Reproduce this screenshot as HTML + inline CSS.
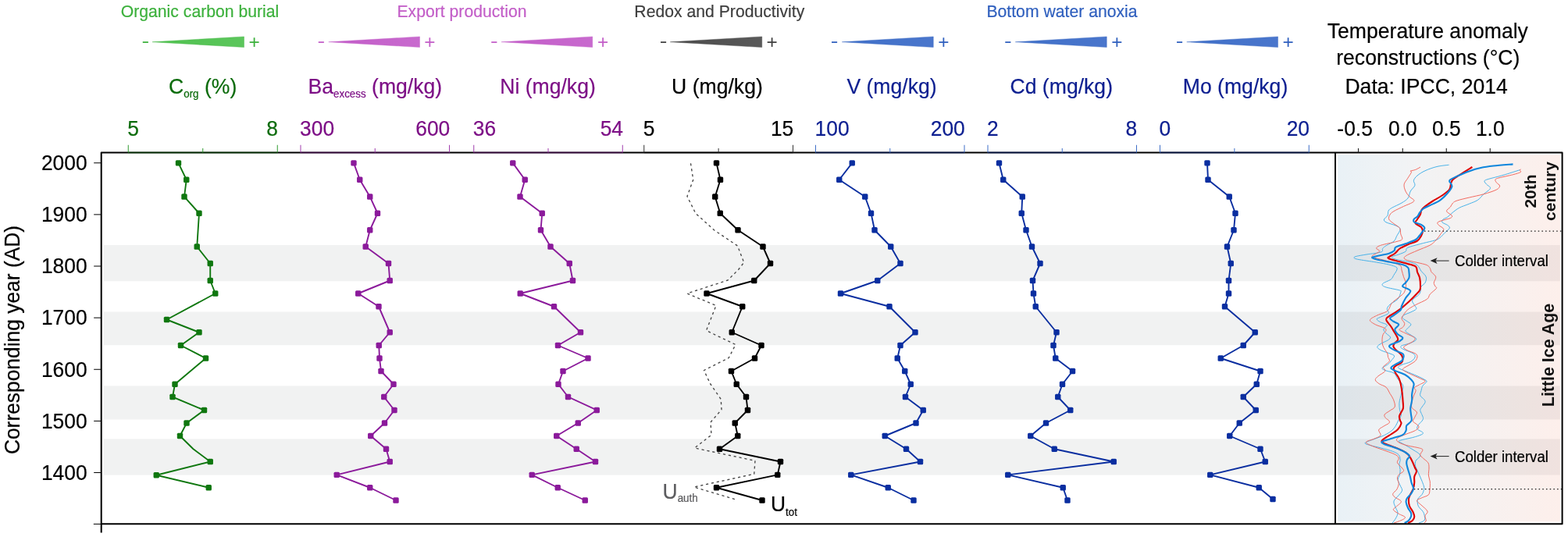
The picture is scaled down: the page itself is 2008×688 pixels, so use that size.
<!DOCTYPE html>
<html lang="en">
<head>
<meta charset="utf-8">
<title>Geochemical proxies and temperature anomaly reconstructions</title>
<style>html,body{margin:0;padding:0;background:#fff}svg{display:block}text{stroke-width:.2px;stroke-linejoin:round}</style>
</head>
<body>
<svg width="2008" height="688" viewBox="0 0 2008 688" font-family='"Liberation Sans", sans-serif'>
<defs>
<linearGradient id="tg" x1="0" y1="0" x2="1" y2="0"><stop offset="0" stop-color="#e9f1f6"/><stop offset="0.3" stop-color="#f1f3f5"/><stop offset="0.5" stop-color="#f4f2f2"/><stop offset="1" stop-color="#fdefeb"/></linearGradient>
<linearGradient id="wg" x1="0" y1="0" x2="1" y2="0"><stop offset="0" stop-color="#4fc24f"/><stop offset="1" stop-color="#5cc65c"/></linearGradient>
<linearGradient id="wp" x1="0" y1="0" x2="1" y2="0"><stop offset="0" stop-color="#c25cc8"/><stop offset="1" stop-color="#c86ace"/></linearGradient>
<linearGradient id="wk" x1="0" y1="0" x2="1" y2="0"><stop offset="0" stop-color="#4a4a4a"/><stop offset="1" stop-color="#5a5a5a"/></linearGradient>
<linearGradient id="wb" x1="0" y1="0" x2="1" y2="0"><stop offset="0" stop-color="#3f6fc8"/><stop offset="1" stop-color="#4a76cc"/></linearGradient>
</defs>
<rect width="2008" height="688" fill="#ffffff"/>
<rect x="1713.1" y="198.2" width="284.8" height="470.3" fill="url(#tg)"/>
<rect x="132.9" y="314.0" width="1574.6" height="46.25" fill="#f1f2f2"/>
<rect x="1713.1" y="314.0" width="284.8" height="46.25" fill="#000" fill-opacity="0.052"/>
<rect x="132.9" y="399.5" width="1574.6" height="42.7" fill="#f1f2f2"/>
<rect x="1713.1" y="399.5" width="284.8" height="42.7" fill="#000" fill-opacity="0.052"/>
<rect x="132.9" y="494.4" width="1574.6" height="43.1" fill="#f1f2f2"/>
<rect x="1713.1" y="494.4" width="284.8" height="43.1" fill="#000" fill-opacity="0.052"/>
<rect x="132.9" y="562.4" width="1574.6" height="46.2" fill="#f1f2f2"/>
<rect x="1713.1" y="562.4" width="284.8" height="46.2" fill="#000" fill-opacity="0.052"/>
<text transform="translate(256 21.6) scale(1 1.025)" font-size="21.2" fill="#3db13d" stroke="#3db13d" text-anchor="middle">Organic carbon burial</text>
<text transform="translate(591.5 21.6) scale(1 1.025)" font-size="21.2" fill="#c35ec8" stroke="#c35ec8" text-anchor="middle">Export production</text>
<text transform="translate(921.3 21.6) scale(1 1.025)" font-size="21.2" fill="#3f3f3f" stroke="#3f3f3f" text-anchor="middle">Redox and Productivity</text>
<text transform="translate(1360 21.6) scale(1 1.025)" font-size="21.2" fill="#2f5fbe" stroke="#2f5fbe" text-anchor="middle">Bottom water anoxia</text>
<polygon points="195,53.75 312.5,46.9 312.5,60.6" fill="url(#wg)" stroke="#3db13d" stroke-width="0.4" stroke-linejoin="round"/>
<text transform="translate(186.25 59.8) scale(1 0.78)" font-size="29" fill="#3db13d" text-anchor="middle">-</text>
<text x="325.5" y="62.1" font-size="24.4" fill="#3db13d" text-anchor="middle">+</text>
<polygon points="420.75,53.75 537.5,46.9 537.5,60.6" fill="url(#wp)" stroke="#c35ec8" stroke-width="0.4" stroke-linejoin="round"/>
<text transform="translate(411.25 59.8) scale(1 0.78)" font-size="29" fill="#c35ec8" text-anchor="middle">-</text>
<text x="550.25" y="62.1" font-size="24.4" fill="#c35ec8" text-anchor="middle">+</text>
<polygon points="642,53.75 758.75,46.9 758.75,60.6" fill="url(#wp)" stroke="#c35ec8" stroke-width="0.4" stroke-linejoin="round"/>
<text transform="translate(632.75 59.8) scale(1 0.78)" font-size="29" fill="#c35ec8" text-anchor="middle">-</text>
<text x="772" y="62.1" font-size="24.4" fill="#c35ec8" text-anchor="middle">+</text>
<polygon points="858.25,53.75 975.75,46.9 975.75,60.6" fill="url(#wk)" stroke="#3f3f3f" stroke-width="0.4" stroke-linejoin="round"/>
<text transform="translate(849.5 59.8) scale(1 0.78)" font-size="29" fill="#3f3f3f" text-anchor="middle">-</text>
<text x="988.5" y="62.1" font-size="24.4" fill="#3f3f3f" text-anchor="middle">+</text>
<polygon points="1078.25,53.75 1195.25,46.9 1195.25,60.6" fill="url(#wb)" stroke="#2f5fbe" stroke-width="0.4" stroke-linejoin="round"/>
<text transform="translate(1068.5 59.8) scale(1 0.78)" font-size="29" fill="#2f5fbe" text-anchor="middle">-</text>
<text x="1208.25" y="62.1" font-size="24.4" fill="#2f5fbe" text-anchor="middle">+</text>
<polygon points="1300.25,53.75 1417.25,46.9 1417.25,60.6" fill="url(#wb)" stroke="#2f5fbe" stroke-width="0.4" stroke-linejoin="round"/>
<text transform="translate(1290.75 59.8) scale(1 0.78)" font-size="29" fill="#2f5fbe" text-anchor="middle">-</text>
<text x="1430.25" y="62.1" font-size="24.4" fill="#2f5fbe" text-anchor="middle">+</text>
<polygon points="1519.75,53.75 1636.5,46.9 1636.5,60.6" fill="url(#wb)" stroke="#2f5fbe" stroke-width="0.4" stroke-linejoin="round"/>
<text transform="translate(1510.5 59.8) scale(1 0.78)" font-size="29" fill="#2f5fbe" text-anchor="middle">-</text>
<text x="1649.6" y="62.1" font-size="24.4" fill="#2f5fbe" text-anchor="middle">+</text>
<text transform="translate(216 119.7) scale(1 1.025)" font-size="26.6" fill="#0b6b0b" stroke="#0b6b0b">C<tspan font-size="13.4" dy="5.2">org</tspan><tspan dy="-5.2"> (%)</tspan></text>
<text transform="translate(394.5 119.7) scale(1 1.025)" font-size="26.6" fill="#7d0f86" stroke="#7d0f86">Ba<tspan font-size="13.4" dy="5.2">excess</tspan><tspan dy="-5.2"> (mg/kg)</tspan></text>
<text transform="translate(640.2 119.6) scale(1 1.025)" font-size="26.6" fill="#7d0f86" stroke="#7d0f86" text-anchor="start">Ni (mg/kg)</text>
<text transform="translate(860.1 119.6) scale(1 1.025)" font-size="26.6" fill="#000" stroke="#000" text-anchor="start">U (mg/kg)</text>
<text transform="translate(1084.4 119.6) scale(1 1.025)" font-size="26.6" fill="#0c1e90" stroke="#0c1e90" text-anchor="start">V (mg/kg)</text>
<text transform="translate(1293.5 119.6) scale(1 1.025)" font-size="26.6" fill="#0c1e90" stroke="#0c1e90" text-anchor="start">Cd (mg/kg)</text>
<text transform="translate(1514.8 119.6) scale(1 1.025)" font-size="26.6" fill="#0c1e90" stroke="#0c1e90" text-anchor="start">Mo (mg/kg)</text>
<text transform="translate(1828.3 49.4) scale(1 1.025)" font-size="26.6" fill="#000" stroke="#000" text-anchor="middle">Temperature anomaly</text>
<text transform="translate(1828.8 83.3) scale(1 1.025)" font-size="26.6" fill="#000" stroke="#000" text-anchor="middle">reconstructions (°C)</text>
<text transform="translate(1826.6 120.1) scale(1 1.025)" font-size="26.6" fill="#000" stroke="#000" text-anchor="middle">Data: IPCC, 2014</text>
<text transform="translate(163.35 173.8) scale(1 1.055)" font-size="26.4" fill="#0b6b0b" stroke="#0b6b0b" text-anchor="start">5</text>
<text transform="translate(356.05 173.8) scale(1 1.055)" font-size="26.4" fill="#0b6b0b" stroke="#0b6b0b" text-anchor="end">8</text>
<text transform="translate(384.1 173.8) scale(1 1.055)" font-size="26.4" fill="#7d0f86" stroke="#7d0f86" text-anchor="start">300</text>
<text transform="translate(576.3 173.8) scale(1 1.055)" font-size="26.4" fill="#7d0f86" stroke="#7d0f86" text-anchor="end">600</text>
<text transform="translate(605.85 173.8) scale(1 1.055)" font-size="26.4" fill="#7d0f86" stroke="#7d0f86" text-anchor="start">36</text>
<text transform="translate(798.05 173.8) scale(1 1.055)" font-size="26.4" fill="#7d0f86" stroke="#7d0f86" text-anchor="end">54</text>
<text transform="translate(823.85 173.8) scale(1 1.055)" font-size="26.4" fill="#000" stroke="#000" text-anchor="start">5</text>
<text transform="translate(1016.3 173.8) scale(1 1.055)" font-size="26.4" fill="#000" stroke="#000" text-anchor="end">15</text>
<text transform="translate(1043.6 173.8) scale(1 1.055)" font-size="26.4" fill="#0c1e90" stroke="#0c1e90" text-anchor="start">100</text>
<text transform="translate(1235.8 173.8) scale(1 1.055)" font-size="26.4" fill="#0c1e90" stroke="#0c1e90" text-anchor="end">200</text>
<text transform="translate(1264.1 173.8) scale(1 1.055)" font-size="26.4" fill="#0c1e90" stroke="#0c1e90" text-anchor="start">2</text>
<text transform="translate(1456.3 173.8) scale(1 1.055)" font-size="26.4" fill="#0c1e90" stroke="#0c1e90" text-anchor="end">8</text>
<text transform="translate(1484.6 173.8) scale(1 1.055)" font-size="26.4" fill="#0c1e90" stroke="#0c1e90" text-anchor="start">0</text>
<text transform="translate(1677.05 173.8) scale(1 1.055)" font-size="26.4" fill="#0c1e90" stroke="#0c1e90" text-anchor="end">20</text>
<text transform="translate(1796.25 173.8) scale(1 1.055)" font-size="26.4" fill="#000" stroke="#000" text-anchor="middle">0.0</text>
<text transform="translate(1852.25 173.8) scale(1 1.055)" font-size="26.4" fill="#000" stroke="#000" text-anchor="middle">0.5</text>
<text transform="translate(1908.25 173.8) scale(1 1.055)" font-size="26.4" fill="#000" stroke="#000" text-anchor="middle">1.0</text>
<text transform="translate(1757.85 173.8) scale(1 1.055)" font-size="26.4" fill="#000" stroke="#000" text-anchor="end">-0.5</text>
<line x1="120.2" y1="208.75" x2="129.7" y2="208.75" stroke="#000" stroke-width="1"/>
<text transform="translate(111.6 218.05) scale(1 1.055)" font-size="26.4" fill="#000" stroke="#000" text-anchor="end">2000</text>
<line x1="120.2" y1="274.88" x2="129.7" y2="274.88" stroke="#000" stroke-width="1"/>
<text transform="translate(111.6 284.18) scale(1 1.055)" font-size="26.4" fill="#000" stroke="#000" text-anchor="end">1900</text>
<line x1="120.2" y1="341.01" x2="129.7" y2="341.01" stroke="#000" stroke-width="1"/>
<text transform="translate(111.6 350.31) scale(1 1.055)" font-size="26.4" fill="#000" stroke="#000" text-anchor="end">1800</text>
<line x1="120.2" y1="407.14" x2="129.7" y2="407.14" stroke="#000" stroke-width="1"/>
<text transform="translate(111.6 416.44) scale(1 1.055)" font-size="26.4" fill="#000" stroke="#000" text-anchor="end">1700</text>
<line x1="120.2" y1="473.27" x2="129.7" y2="473.27" stroke="#000" stroke-width="1"/>
<text transform="translate(111.6 482.57) scale(1 1.055)" font-size="26.4" fill="#000" stroke="#000" text-anchor="end">1600</text>
<line x1="120.2" y1="539.4" x2="129.7" y2="539.4" stroke="#000" stroke-width="1"/>
<text transform="translate(111.6 548.7) scale(1 1.055)" font-size="26.4" fill="#000" stroke="#000" text-anchor="end">1500</text>
<line x1="120.2" y1="605.53" x2="129.7" y2="605.53" stroke="#000" stroke-width="1"/>
<text transform="translate(111.6 614.83) scale(1 1.055)" font-size="26.4" fill="#000" stroke="#000" text-anchor="end">1400</text>
<line x1="119.8" y1="671.4" x2="129.7" y2="671.4" stroke="#000" stroke-width="1"/>
<text transform="translate(25.2,435.5) rotate(-90) scale(1 1.05)" font-size="26.4" fill="#000" stroke="#000" text-anchor="middle">Corresponding year (AD)</text>
<g fill="none" stroke-linejoin="round" stroke-linecap="butt">
<path d="M1855.6 211.25C1853 211.62 1845.1 212.25 1840 213.5C1834.9 214.75 1829.17 216.83 1825 218.75C1820.83 220.67 1817.43 222.92 1815 225C1812.57 227.08 1810.92 229.17 1810.4 231.25C1809.88 233.33 1812.59 235.21 1811.9 237.5C1811.21 239.79 1807.72 242.29 1806.25 245C1804.78 247.71 1804.97 251.25 1803.1 253.75C1801.22 256.25 1798.43 257.92 1795 260C1791.57 262.08 1785.32 264.58 1782.5 266.25C1779.68 267.92 1779.03 268.33 1778.1 270C1777.17 271.67 1777.83 274.42 1776.9 276.25C1775.97 278.08 1772.82 279.58 1772.5 281C1772.18 282.42 1772.5 283.4 1775 284.75C1777.5 286.1 1784.48 287.64 1787.5 289.1C1790.52 290.56 1792.89 291.31 1793.1 293.5C1793.31 295.69 1790.1 299.65 1788.75 302.25C1787.4 304.85 1787.29 307.02 1785 309.1C1782.71 311.18 1777.4 313.18 1775 314.75C1772.6 316.32 1771.64 317.14 1770.6 318.5C1769.56 319.86 1772.18 321.65 1768.75 322.9C1765.32 324.15 1755.21 325.11 1750 326C1744.79 326.89 1740.17 327.57 1737.5 328.25C1734.83 328.93 1733.79 329.43 1734 330.1C1734.21 330.77 1734 331.27 1738.75 332.25C1743.5 333.23 1755.83 334.86 1762.5 336C1769.17 337.14 1774.48 338.06 1778.75 339.1C1783.02 340.14 1786.43 341.1 1788.1 342.25C1789.77 343.4 1789.27 344.33 1788.75 346C1788.23 347.67 1786.25 350.27 1785 352.25C1783.75 354.23 1783.65 356.02 1781.25 357.9C1778.85 359.77 1771.85 361.88 1770.6 363.5C1769.35 365.12 1770.1 366.18 1773.75 367.6C1777.4 369.02 1789.17 370.85 1792.5 372C1795.83 373.15 1794.17 372.62 1793.75 374.5C1793.33 376.38 1792.29 380.65 1790 383.25C1787.71 385.85 1782.29 388.02 1780 390.1C1777.71 392.18 1776.57 393.87 1776.25 395.75C1775.93 397.63 1779.56 399.62 1778.1 401.4C1776.64 403.17 1770 405.15 1767.5 406.4C1765 407.65 1763.1 407.87 1763.1 408.9C1763.1 409.93 1765.31 411.35 1767.5 412.6C1769.69 413.85 1775.52 414.83 1776.25 416.4C1776.98 417.97 1772.11 420.23 1771.9 422C1771.69 423.77 1773.55 425.33 1775 427C1776.45 428.67 1780.18 430.54 1780.6 432C1781.02 433.46 1779.47 434.4 1777.5 435.75C1775.53 437.1 1771.04 438.64 1768.75 440.1C1766.46 441.56 1763.75 443.03 1763.75 444.5C1763.75 445.97 1766.04 447.48 1768.75 448.9C1771.46 450.32 1777.19 451.8 1780 453C1782.81 454.2 1785.28 454.64 1785.6 456.1C1785.92 457.56 1783.25 459.98 1781.9 461.75C1780.55 463.52 1779.48 465.08 1777.5 466.75C1775.52 468.42 1770.42 470.39 1770 471.75C1769.58 473.11 1772.5 473.86 1775 474.9C1777.5 475.94 1782.5 476.23 1785 478C1787.5 479.77 1788.23 483.21 1790 485.5C1791.77 487.79 1794.45 489.88 1795.6 491.75C1796.75 493.62 1797 494.88 1796.9 496.75C1796.8 498.62 1795.63 500.71 1795 503C1794.37 505.29 1793.62 508.21 1793.1 510.5C1792.58 512.79 1792 514.25 1791.9 516.75C1791.8 519.25 1792.08 523 1792.5 525.5C1792.92 528 1794.72 529.5 1794.4 531.75C1794.08 534 1791.75 536.75 1790.6 539C1789.45 541.25 1788.85 543.17 1787.5 545.25C1786.15 547.33 1785 549.42 1782.5 551.5C1780 553.58 1776.67 555.77 1772.5 557.75C1768.33 559.73 1761.57 561.77 1757.5 563.4C1753.43 565.02 1748.72 566.36 1748.1 567.5C1747.47 568.64 1750.31 569.17 1753.75 570.25C1757.19 571.33 1763.75 572.64 1768.75 574C1773.75 575.36 1780 576.94 1783.75 578.4C1787.5 579.86 1789.69 580.98 1791.25 582.75C1792.81 584.52 1792.99 586.92 1793.1 589C1793.21 591.08 1791.9 593.17 1791.9 595.25C1791.9 597.33 1793 599.33 1793.1 601.5C1793.2 603.67 1792.97 606.08 1792.5 608.25C1792.03 610.42 1790.15 612.21 1790.25 614.5C1790.35 616.79 1792.21 619.71 1793.1 622C1793.99 624.29 1795.91 626.17 1795.6 628.25C1795.29 630.33 1793.02 632.21 1791.25 634.5C1789.48 636.79 1785.72 639.5 1785 642C1784.28 644.5 1786.07 647 1786.9 649.5C1787.73 652 1789.9 654.6 1790 657C1790.1 659.4 1788.65 661.72 1787.5 663.9C1786.35 666.08 1783.83 669.07 1783.1 670.1" stroke="#48b2e8" stroke-width="1"/>
<path d="M1946.9 217.5C1943.25 218.65 1931.78 222.42 1925 224.4C1918.22 226.38 1910.25 228.15 1906.25 229.4C1902.25 230.65 1901.42 230.76 1901 231.9C1900.58 233.04 1902.5 234.69 1903.75 236.25C1905 237.81 1909.12 239.17 1908.5 241.25C1907.88 243.33 1902.67 246.25 1900 248.75C1897.33 251.25 1895.62 254.17 1892.5 256.25C1889.38 258.33 1885.21 259.58 1881.25 261.25C1877.29 262.92 1872.29 264.38 1868.75 266.25C1865.21 268.12 1862.5 270.52 1860 272.5C1857.5 274.48 1855.73 276.68 1853.75 278.1C1851.77 279.52 1849.24 279.89 1848.1 281C1846.96 282.11 1845.96 283.5 1846.9 284.75C1847.84 286 1852.19 287.25 1853.75 288.5C1855.31 289.75 1856.88 290.58 1856.25 292.25C1855.62 293.92 1852.08 296.42 1850 298.5C1847.92 300.58 1845.83 303.18 1843.75 304.75C1841.67 306.32 1841.04 306.76 1837.5 307.9C1833.96 309.04 1827.71 310.25 1822.5 311.6C1817.29 312.95 1809.79 314.85 1806.25 316C1802.71 317.15 1802.29 317.46 1801.25 318.5C1800.21 319.54 1801.67 321 1800 322.25C1798.33 323.5 1794.17 324.86 1791.25 326C1788.33 327.14 1783.12 328.06 1782.5 329.1C1781.88 330.14 1783.54 331.1 1787.5 332.25C1791.46 333.4 1801.67 334.75 1806.25 336C1810.83 337.25 1812.71 337.88 1815 339.75C1817.29 341.62 1818.12 344.75 1820 347.25C1821.88 349.75 1825.42 352.25 1826.25 354.75C1827.08 357.25 1826.04 360.21 1825 362.25C1823.96 364.29 1820.93 365.58 1820 367C1819.07 368.42 1819.82 369.08 1819.4 370.75C1818.98 372.42 1819.28 374.71 1817.5 377C1815.72 379.29 1809.79 382.21 1808.75 384.5C1807.71 386.79 1810.42 388.88 1811.25 390.75C1812.08 392.62 1814.58 394.19 1813.75 395.75C1812.92 397.31 1808.96 398.74 1806.25 400.1C1803.54 401.46 1799.17 402.65 1797.5 403.9C1795.83 405.15 1795.42 406.25 1796.25 407.6C1797.08 408.95 1800.72 410.64 1802.5 412C1804.28 413.36 1806.9 414.29 1806.9 415.75C1806.9 417.21 1803.65 419.29 1802.5 420.75C1801.35 422.21 1799.38 423.14 1800 424.5C1800.62 425.86 1803.96 427.23 1806.25 428.9C1808.54 430.57 1813.75 432.73 1813.75 434.5C1813.75 436.27 1809.47 438.04 1806.25 439.5C1803.03 440.96 1796.07 442 1794.4 443.25C1792.73 444.5 1793.65 445.38 1796.25 447C1798.85 448.62 1807.39 451.17 1810 453C1812.61 454.83 1812.53 456.23 1811.9 458C1811.28 459.77 1809.07 462.03 1806.25 463.6C1803.43 465.17 1797.61 466.15 1795 467.4C1792.39 468.65 1789.77 469.75 1790.6 471.1C1791.43 472.45 1795.93 473.73 1800 475.5C1804.07 477.27 1810.83 479.88 1815 481.75C1819.17 483.62 1823.02 485.5 1825 486.75C1826.98 488 1827.42 488 1826.9 489.25C1826.38 490.5 1823.05 492.38 1821.9 494.25C1820.75 496.12 1820.53 498.42 1820 500.5C1819.47 502.58 1818.12 504.88 1818.75 506.75C1819.38 508.62 1822.71 510.29 1823.75 511.75C1824.79 513.21 1825.42 513.94 1825 515.5C1824.58 517.06 1822.29 519.43 1821.25 521.1C1820.21 522.77 1818.86 523.93 1818.75 525.5C1818.64 527.07 1819.97 528.83 1820.6 530.5C1821.22 532.17 1822.39 534.08 1822.5 535.5C1822.61 536.92 1822.29 537.48 1821.25 539C1820.21 540.52 1817.29 542.83 1816.25 544.6C1815.21 546.37 1813.96 547.87 1815 549.6C1816.04 551.33 1822.92 553.33 1822.5 555C1822.08 556.67 1816.88 558.2 1812.5 559.6C1808.12 561 1799.79 562.42 1796.25 563.4C1792.71 564.38 1791.04 564.57 1791.25 565.5C1791.46 566.43 1794.38 567.17 1797.5 569C1800.62 570.83 1806.57 574.32 1810 576.5C1813.43 578.68 1816.85 580.53 1818.1 582.1C1819.35 583.67 1818.33 584.54 1817.5 585.9C1816.67 587.26 1813.93 588.48 1813.1 590.25C1812.27 592.02 1811.97 594 1812.5 596.5C1813.03 599 1815 602.33 1816.25 605.25C1817.5 608.17 1818.96 611.5 1820 614C1821.04 616.5 1821.88 618.29 1822.5 620.25C1823.12 622.21 1823.96 623.58 1823.75 625.75C1823.54 627.92 1822.61 630.96 1821.25 633.25C1819.89 635.54 1816.43 637 1815.6 639.5C1814.77 642 1815.1 645.54 1816.25 648.25C1817.4 650.96 1821.14 653.46 1822.5 655.75C1823.86 658.04 1824.19 660.12 1824.4 662C1824.61 663.88 1825 665.65 1823.75 667C1822.5 668.35 1818.04 669.58 1816.9 670.1" stroke="#48b2e8" stroke-width="1"/>
<path d="M1819 214.1C1817.92 214.67 1814.62 216.67 1812.5 217.5C1810.38 218.33 1807.08 218.58 1806.25 219.1C1805.42 219.62 1808.12 218.99 1807.5 220.6C1806.88 222.21 1804.07 226.14 1802.5 228.75C1800.93 231.36 1798.52 233.54 1798.1 236.25C1797.68 238.96 1798.85 242.39 1800 245C1801.15 247.61 1803.23 250.03 1805 251.9C1806.77 253.78 1809.97 255 1810.6 256.25C1811.22 257.5 1810.93 258.04 1808.75 259.4C1806.57 260.76 1801.46 262.53 1797.5 264.4C1793.54 266.27 1787.92 268.83 1785 270.6C1782.08 272.37 1781.04 273.27 1780 275C1778.96 276.73 1777.92 279.07 1778.75 281C1779.58 282.93 1782.71 284.73 1785 286.6C1787.29 288.48 1791.04 290.06 1792.5 292.25C1793.96 294.44 1793.23 297.36 1793.75 299.75C1794.27 302.14 1796.64 304.93 1795.6 306.6C1794.56 308.27 1791.97 308.5 1787.5 309.75C1783.03 311 1772.92 312.74 1768.75 314.1C1764.58 315.46 1762.81 316.65 1762.5 317.9C1762.19 319.15 1766.9 320.46 1766.9 321.6C1766.9 322.74 1764.07 323.52 1762.5 324.75C1760.93 325.98 1755.42 327.46 1757.5 329C1759.58 330.54 1769.17 332.21 1775 334C1780.83 335.79 1789.17 337.75 1792.5 339.75C1795.83 341.75 1794.17 343.5 1795 346C1795.83 348.5 1796.67 352.25 1797.5 354.75C1798.33 357.25 1799.5 358.96 1800 361C1800.5 363.04 1800.5 365.58 1800.5 367C1800.5 368.42 1800.5 368.04 1800 369.5C1799.5 370.96 1799.17 373.67 1797.5 375.75C1795.83 377.83 1792.5 379.92 1790 382C1787.5 384.08 1784.38 385.96 1782.5 388.25C1780.62 390.54 1780 393.88 1778.75 395.75C1777.5 397.62 1777.71 398.04 1775 399.5C1772.29 400.96 1765.93 402.73 1762.5 404.5C1759.07 406.27 1754.61 408.23 1754.4 410.1C1754.19 411.98 1758.23 414.08 1761.25 415.75C1764.27 417.42 1770.21 418.85 1772.5 420.1C1774.79 421.35 1775.21 421.89 1775 423.25C1774.79 424.61 1772.08 426.38 1771.25 428.25C1770.42 430.12 1770.11 432.21 1770 434.5C1769.89 436.79 1769.97 439.71 1770.6 442C1771.22 444.29 1772.7 446.42 1773.75 448.25C1774.8 450.08 1776.28 451.48 1776.9 453C1777.53 454.52 1777.08 455.83 1777.5 457.4C1777.92 458.97 1779.82 460.84 1779.4 462.4C1778.98 463.96 1776.36 465.4 1775 466.75C1773.64 468.1 1771.46 469.04 1771.25 470.5C1771.04 471.96 1774.79 473.62 1773.75 475.5C1772.71 477.38 1767.08 479.88 1765 481.75C1762.92 483.62 1761.04 485.08 1761.25 486.75C1761.46 488.42 1763.96 490.19 1766.25 491.75C1768.54 493.31 1772.71 494.02 1775 496.1C1777.29 498.18 1778.43 501.64 1780 504.25C1781.57 506.86 1783.36 508.94 1784.4 511.75C1785.44 514.56 1786.98 518.71 1786.25 521.1C1785.52 523.49 1782.19 524.43 1780 526.1C1777.81 527.77 1774.03 529.53 1773.1 531.1C1772.17 532.67 1773.46 534.18 1774.4 535.5C1775.34 536.82 1778.03 537.9 1778.75 539C1779.47 540.1 1780 540.85 1778.75 542.1C1777.5 543.35 1773.44 545.03 1771.25 546.5C1769.06 547.97 1766.12 549.02 1765.6 550.9C1765.07 552.77 1769.03 555.88 1768.1 557.75C1767.17 559.62 1763.12 560.64 1760 562.1C1756.88 563.56 1749.82 564.93 1749.4 566.5C1748.98 568.07 1753.23 569.62 1757.5 571.5C1761.77 573.38 1770 575.88 1775 577.75C1780 579.62 1784.79 581.19 1787.5 582.75C1790.21 584.31 1790.93 585.43 1791.25 587.1C1791.57 588.77 1788.78 590.77 1789.4 592.75C1790.03 594.73 1793.65 597.21 1795 599C1796.35 600.79 1798.12 601.96 1797.5 603.5C1796.88 605.04 1792.6 606.62 1791.25 608.25C1789.9 609.88 1789.4 611.38 1789.4 613.25C1789.4 615.12 1791.36 617.21 1791.25 619.5C1791.14 621.79 1790 624.82 1788.75 627C1787.5 629.18 1784.17 630.93 1783.75 632.6C1783.33 634.27 1784.47 635.33 1786.25 637C1788.03 638.67 1794.19 640.52 1794.4 642.6C1794.61 644.68 1789.17 647.73 1787.5 649.5C1785.83 651.27 1783.78 651.79 1784.4 653.25C1785.03 654.71 1788.75 656.69 1791.25 658.25C1793.75 659.81 1798.78 661.24 1799.4 662.6C1800.03 663.96 1797.4 665.15 1795 666.4C1792.6 667.65 1786.67 669.48 1785 670.1" stroke="#f26a60" stroke-width="1"/>
<path d="M1947.5 216.9C1947.29 217.1 1946.29 217.48 1946.25 218.1C1946.21 218.72 1948.71 219.66 1947.25 220.6C1945.79 221.54 1942.04 222.56 1937.5 223.75C1932.96 224.94 1923.75 226.71 1920 227.75C1916.25 228.79 1915.62 229 1915 230C1914.38 231 1915.32 232.4 1916.25 233.75C1917.18 235.1 1920.6 236.54 1920.6 238.1C1920.6 239.66 1919.68 241.32 1916.25 243.1C1912.82 244.88 1905.83 247.08 1900 248.75C1894.17 250.42 1886.88 251.74 1881.25 253.1C1875.62 254.46 1869.69 255.75 1866.25 256.9C1862.81 258.05 1862.06 258.65 1860.6 260C1859.14 261.35 1858.85 263.23 1857.5 265C1856.15 266.77 1852.18 268.73 1852.5 270.6C1852.82 272.48 1858.57 274.78 1859.4 276.25C1860.23 277.72 1859.07 278.51 1857.5 279.4C1855.93 280.29 1852.71 280.71 1850 281.6C1847.29 282.49 1842.5 283.6 1841.25 284.75C1840 285.9 1841.25 287.04 1842.5 288.5C1843.75 289.96 1848.33 291.62 1848.75 293.5C1849.17 295.38 1846.67 297.35 1845 299.75C1843.33 302.15 1841.04 305.51 1838.75 307.9C1836.46 310.29 1835.21 311.92 1831.25 314.1C1827.29 316.28 1819.79 318.92 1815 321C1810.21 323.08 1805.32 325.03 1802.5 326.6C1799.68 328.17 1798.1 329.25 1798.1 330.4C1798.1 331.55 1799.06 332.36 1802.5 333.5C1805.94 334.64 1814.58 336.21 1818.75 337.25C1822.92 338.29 1825.42 338.71 1827.5 339.75C1829.58 340.79 1830.32 342.04 1831.25 343.5C1832.18 344.96 1831.85 346.62 1833.1 348.5C1834.35 350.38 1838.22 352.46 1838.75 354.75C1839.28 357.04 1836.36 360.21 1836.25 362.25C1836.14 364.29 1837.57 365.79 1838.1 367C1838.62 368.21 1840.54 367.83 1839.4 369.5C1838.26 371.17 1833.23 374.71 1831.25 377C1829.27 379.29 1830.62 380.96 1827.5 383.25C1824.38 385.54 1816.67 388.46 1812.5 390.75C1808.33 393.04 1805 394.92 1802.5 397C1800 399.08 1798.75 401.38 1797.5 403.25C1796.25 405.12 1794.79 406.38 1795 408.25C1795.21 410.12 1798.54 412.62 1798.75 414.5C1798.96 416.38 1797.39 418.15 1796.25 419.5C1795.11 420.85 1791.28 421.35 1791.9 422.6C1792.53 423.85 1796.78 425.33 1800 427C1803.22 428.67 1809.58 430.93 1811.25 432.6C1812.92 434.27 1811.67 435.43 1810 437C1808.33 438.57 1803.33 440.65 1801.25 442C1799.17 443.35 1797.29 443.95 1797.5 445.1C1797.71 446.25 1800 447.58 1802.5 448.9C1805 450.22 1810.42 451.69 1812.5 453C1814.58 454.31 1815 455.18 1815 456.75C1815 458.32 1814.17 460.62 1812.5 462.4C1810.83 464.17 1807.5 465.84 1805 467.4C1802.5 468.96 1798.85 470.61 1797.5 471.75C1796.15 472.89 1795.44 473 1796.9 474.25C1798.36 475.5 1802.61 477.48 1806.25 479.25C1809.89 481.02 1815.62 483.34 1818.75 484.9C1821.88 486.46 1825.21 487.25 1825 488.6C1824.79 489.95 1819.79 491.64 1817.5 493C1815.21 494.36 1811.98 495.5 1811.25 496.75C1810.52 498 1813.31 498.62 1813.1 500.5C1812.89 502.38 1810.83 505.5 1810 508C1809.17 510.5 1808.42 513.1 1808.1 515.5C1807.78 517.9 1807.05 520.32 1808.1 522.4C1809.15 524.48 1813.67 526.23 1814.4 528C1815.13 529.77 1813.33 531.17 1812.5 533C1811.67 534.83 1809.82 537.75 1809.4 539C1808.98 540.25 1808.75 539.25 1810 540.5C1811.25 541.75 1816.48 544.67 1816.9 546.5C1817.32 548.33 1815.32 549.83 1812.5 551.5C1809.68 553.17 1803.85 554.83 1800 556.5C1796.15 558.17 1791.07 559.93 1789.4 561.5C1787.73 563.07 1788.23 564.44 1790 565.9C1791.77 567.36 1795.42 568.9 1800 570.25C1804.58 571.6 1813.85 572.96 1817.5 574C1821.15 575.04 1821.69 575.04 1821.9 576.5C1822.11 577.96 1818.65 580.98 1818.75 582.75C1818.85 584.52 1820.83 585.43 1822.5 587.1C1824.17 588.77 1827.5 590.77 1828.75 592.75C1830 594.73 1829.89 596.29 1830 599C1830.11 601.71 1829.19 606 1829.4 609C1829.61 612 1830.98 614 1831.25 617C1831.52 620 1831.31 624.18 1831 627C1830.69 629.82 1831.03 632.13 1829.4 633.9C1827.78 635.67 1823.75 636.35 1821.25 637.6C1818.75 638.85 1814.61 639.83 1814.4 641.4C1814.19 642.97 1817.72 644.72 1820 647C1822.28 649.28 1827.27 652.81 1828.1 655.1C1828.93 657.39 1825.31 658.77 1825 660.75C1824.69 662.73 1826.46 665.44 1826.25 667C1826.04 668.56 1824.17 669.58 1823.75 670.1" stroke="#f26a60" stroke-width="1"/>
<path d="M1885.4 214C1882.62 215.73 1872.88 221.73 1868.75 224.4C1864.62 227.07 1862.38 228.23 1860.6 230C1858.82 231.77 1858.82 232.92 1858.1 235C1857.38 237.08 1858.02 240 1856.25 242.5C1854.48 245 1851.04 247.5 1847.5 250C1843.96 252.5 1838.75 255.1 1835 257.5C1831.25 259.9 1827.4 262.52 1825 264.4C1822.6 266.27 1821.64 266.98 1820.6 268.75C1819.56 270.52 1819.68 272.96 1818.75 275C1817.82 277.04 1816.04 279.17 1815 281C1813.96 282.83 1811.67 284.33 1812.5 286C1813.33 287.67 1818.43 289.33 1820 291C1821.57 292.67 1821.9 294.12 1821.9 296C1821.9 297.88 1821.15 300.17 1820 302.25C1818.85 304.33 1817.92 306.62 1815 308.5C1812.08 310.38 1806.25 311.83 1802.5 313.5C1798.75 315.17 1795.21 316.62 1792.5 318.5C1789.79 320.38 1788.54 322.98 1786.25 324.75C1783.96 326.52 1780.11 328.06 1778.75 329.1C1777.39 330.14 1776.64 330.17 1778.1 331C1779.56 331.83 1783.43 332.95 1787.5 334.1C1791.57 335.25 1798.23 336.65 1802.5 337.9C1806.77 339.15 1811.02 339.83 1813.1 341.6C1815.18 343.37 1814.17 346.1 1815 348.5C1815.83 350.9 1817.43 352.92 1818.1 356C1818.77 359.08 1819 364.33 1819 367C1819 369.67 1819.18 370.12 1818.1 372C1817.02 373.88 1814.68 375.96 1812.5 378.25C1810.32 380.54 1807.92 383.04 1805 385.75C1802.08 388.46 1798.33 391.89 1795 394.5C1791.67 397.11 1788.12 399.32 1785 401.4C1781.88 403.48 1777.82 405.44 1776.25 407C1774.68 408.56 1774.77 408.88 1775.6 410.75C1776.43 412.62 1779.68 415.96 1781.25 418.25C1782.82 420.54 1783.64 422.21 1785 424.5C1786.36 426.79 1788.57 430.12 1789.4 432C1790.23 433.88 1790.63 434.4 1790 435.75C1789.37 437.1 1786.53 438.74 1785.6 440.1C1784.67 441.46 1784.08 442.54 1784.4 443.9C1784.72 445.26 1786.05 446.73 1787.5 448.25C1788.95 449.77 1791.64 451.38 1793.1 453C1794.56 454.62 1795.93 456.12 1796.25 458C1796.57 459.88 1796.46 462.48 1795 464.25C1793.54 466.02 1789.21 467.35 1787.5 468.6C1785.79 469.85 1784.85 470.28 1784.75 471.75C1784.65 473.22 1785.82 475.32 1786.9 477.4C1787.98 479.48 1790.11 481.86 1791.25 484.25C1792.39 486.64 1793.03 488.62 1793.75 491.75C1794.47 494.88 1795.14 499.46 1795.6 503C1796.06 506.54 1796.28 509.67 1796.5 513C1796.72 516.33 1797.36 520.29 1796.9 523C1796.44 525.71 1794.58 527.48 1793.75 529.25C1792.92 531.02 1792.01 531.98 1791.9 533.6C1791.79 535.23 1792.68 537.48 1793.1 539C1793.52 540.52 1794.92 540.88 1794.4 542.75C1793.88 544.62 1792.19 547.96 1790 550.25C1787.81 552.54 1784.17 554.52 1781.25 556.5C1778.33 558.48 1774.47 560.6 1772.5 562.1C1770.53 563.6 1768.98 564.35 1769.4 565.5C1769.82 566.65 1771.57 567.48 1775 569C1778.43 570.52 1785.83 572.83 1790 574.6C1794.17 576.37 1797.5 577.93 1800 579.6C1802.5 581.27 1803.54 582.62 1805 584.6C1806.46 586.58 1807.6 589.1 1808.75 591.5C1809.9 593.9 1811.03 596.92 1811.9 599C1812.78 601.08 1814.11 602.04 1814 604C1813.89 605.96 1811.71 608.38 1811.25 610.75C1810.79 613.12 1811.46 615.75 1811.25 618.25C1811.04 620.75 1810.83 623.25 1810 625.75C1809.17 628.25 1807.25 630.96 1806.25 633.25C1805.25 635.54 1804.21 637 1804 639.5C1803.79 642 1804.1 645.54 1805 648.25C1805.9 650.96 1808.36 653.46 1809.4 655.75C1810.44 658.04 1811.36 660.12 1811.25 662C1811.14 663.88 1810.11 665.65 1808.75 667C1807.39 668.35 1804.04 669.58 1803.1 670.1" stroke="#de0000" stroke-width="2.1"/>
<path d="M1937.5 210.4C1933.33 210.75 1919.38 211.73 1912.5 212.5C1905.62 213.27 1901.46 213.85 1896.25 215C1891.04 216.15 1886.25 217.63 1881.25 219.4C1876.25 221.17 1870.21 223.83 1866.25 225.6C1862.29 227.37 1859.17 228.85 1857.5 230C1855.83 231.15 1855.93 231.04 1856.25 232.5C1856.57 233.96 1859.82 236.25 1859.4 238.75C1858.98 241.25 1856.36 244.47 1853.75 247.5C1851.14 250.53 1847.5 254.3 1843.75 256.9C1840 259.5 1834.79 261.33 1831.25 263.1C1827.71 264.87 1824.69 265.93 1822.5 267.5C1820.31 269.07 1819.35 270.83 1818.1 272.5C1816.85 274.17 1816.25 276.08 1815 277.5C1813.75 278.92 1811.22 279.79 1810.6 281C1809.97 282.21 1809.68 283.6 1811.25 284.75C1812.82 285.9 1817.81 286.65 1820 287.9C1822.19 289.15 1824.19 290.69 1824.4 292.25C1824.61 293.81 1822.4 295.58 1821.25 297.25C1820.1 298.92 1818.96 300.58 1817.5 302.25C1816.04 303.92 1815.42 305.58 1812.5 307.25C1809.58 308.92 1804.17 310.69 1800 312.25C1795.83 313.81 1789.9 315.14 1787.5 316.6C1785.1 318.06 1787.06 319.64 1785.6 321C1784.14 322.36 1782.6 323.54 1778.75 324.75C1774.9 325.96 1766.14 327.36 1762.5 328.25C1758.86 329.14 1756.9 329.43 1756.9 330.1C1756.9 330.77 1758.44 331.27 1762.5 332.25C1766.56 333.23 1775.62 334.86 1781.25 336C1786.88 337.14 1792.61 337.95 1796.25 339.1C1799.89 340.25 1801.74 341.33 1803.1 342.9C1804.46 344.47 1804.18 346.32 1804.4 348.5C1804.62 350.68 1805.13 353.71 1804.4 356C1803.67 358.29 1801.36 360.42 1800 362.25C1798.64 364.08 1795.21 365.27 1796.25 367C1797.29 368.73 1805.62 370.1 1806.25 372.6C1806.88 375.1 1801.88 378.77 1800 382C1798.12 385.23 1796.04 389.5 1795 392C1793.96 394.5 1795.42 395.02 1793.75 397C1792.08 398.98 1787.29 402.13 1785 403.9C1782.71 405.67 1780.21 406.35 1780 407.6C1779.79 408.85 1781.88 410.04 1783.75 411.4C1785.62 412.76 1790.83 413.98 1791.25 415.75C1791.67 417.52 1786.46 419.92 1786.25 422C1786.04 424.08 1788.33 426.48 1790 428.25C1791.67 430.02 1795.83 431.14 1796.25 432.6C1796.67 434.06 1795 435.53 1792.5 437C1790 438.47 1783.43 440.15 1781.25 441.4C1779.07 442.65 1778.57 443.25 1779.4 444.5C1780.23 445.75 1783.44 447.48 1786.25 448.9C1789.06 450.32 1794.38 451.58 1796.25 453C1798.12 454.42 1797.71 455.83 1797.5 457.4C1797.29 458.97 1797.08 460.63 1795 462.4C1792.92 464.17 1787.29 466.48 1785 468C1782.71 469.52 1781.04 470.35 1781.25 471.5C1781.46 472.65 1783.12 473.4 1786.25 474.9C1789.38 476.4 1796.46 478.52 1800 480.5C1803.54 482.48 1805.73 484.88 1807.5 486.75C1809.27 488.62 1810.28 489.88 1810.6 491.75C1810.92 493.62 1809.82 495.71 1809.4 498C1808.98 500.29 1808.32 503 1808.1 505.5C1807.88 508 1808.41 510.08 1808.1 513C1807.79 515.92 1806.45 520.08 1806.25 523C1806.05 525.92 1806.69 527.83 1806.9 530.5C1807.11 533.17 1808.44 536.54 1807.5 539C1806.56 541.46 1802.4 543.17 1801.25 545.25C1800.1 547.33 1801.43 549.52 1800.6 551.5C1799.77 553.48 1799.47 555.33 1796.25 557.1C1793.03 558.87 1785.62 560.63 1781.25 562.1C1776.88 563.57 1771.46 564.75 1770 565.9C1768.54 567.05 1769.58 567.65 1772.5 569C1775.42 570.35 1783.12 572.33 1787.5 574C1791.88 575.67 1795.83 577.33 1798.75 579C1801.67 580.67 1804.47 582.33 1805 584C1805.53 585.67 1802.53 587.33 1801.9 589C1801.28 590.67 1801.05 591.92 1801.25 594C1801.45 596.08 1802.38 598.92 1803.1 601.5C1803.82 604.08 1804.87 606.71 1805.6 609.5C1806.33 612.29 1806.77 615.54 1807.5 618.25C1808.23 620.96 1810 623.46 1810 625.75C1810 628.04 1808.85 629.92 1807.5 632C1806.15 634.08 1803.05 636.38 1801.9 638.25C1800.75 640.12 1800.4 641.17 1800.6 643.25C1800.8 645.33 1802.05 648.46 1803.1 650.75C1804.15 653.04 1806.27 655.12 1806.9 657C1807.53 658.88 1807.43 660.33 1806.9 662C1806.38 663.67 1805.11 665.65 1803.75 667C1802.39 668.35 1799.58 669.58 1798.75 670.1" stroke="#0f86dc" stroke-width="2.1"/>
</g>
<line x1="1824" y1="296.1" x2="2000.6" y2="296.1" stroke="#1a1a1a" stroke-width="1.3" stroke-dasharray="1.5 3.2"/>
<line x1="1810.8" y1="626.7" x2="2000.6" y2="626.7" stroke="#1a1a1a" stroke-width="1.3" stroke-dasharray="1.5 3.2"/>
<line x1="1836" y1="334.1" x2="1855.6" y2="334.1" stroke="#222" stroke-width="1"/>
<path d="M1831.6 334.1 L1840.6 330.2 L1838.4 334.1 L1840.6 338 Z" fill="#222"/>
<text transform="translate(1863 341) scale(1 1.04)" font-size="18.6" fill="#000" stroke="#000" text-anchor="start">Colder interval</text>
<line x1="1836" y1="584.6" x2="1855.6" y2="584.6" stroke="#222" stroke-width="1"/>
<path d="M1831.6 584.6 L1840.6 580.7 L1838.4 584.6 L1840.6 588.5 Z" fill="#222"/>
<text transform="translate(1863 591.5) scale(1 1.04)" font-size="18.6" fill="#000" stroke="#000" text-anchor="start">Colder interval</text>
<text transform="translate(1967.3,245) rotate(-90)" font-size="21" font-weight="bold" fill="#111" text-anchor="middle">20th</text>
<text transform="translate(1992.3,245) rotate(-90)" font-size="21" font-weight="bold" fill="#111" text-anchor="middle">century</text>
<text transform="translate(1990.4,455) rotate(-90) scale(1 1.03)" font-size="21.4" font-weight="bold" fill="#111" text-anchor="middle">Little Ice Age</text>
<polyline points="228.5,208.9 238.75,230.25 236,252 255,273.25 252.25,316 269.25,337.5 269.25,359.5 275.75,376 213.5,409.5 255,425.75 231.5,442.5 263.5,459 224,492.25 221,508.5 261.5,525.5 239,542 230.5,558.5 247.5,575.25 269.25,591.5 200.25,608.75 267.25,624.75" fill="none" stroke="#0f770f" stroke-width="1.9" stroke-linejoin="round"/>
<rect x="224.8" y="205.2" width="7.4" height="7.4" rx="1.5" fill="#0f770f"/>
<rect x="235.05" y="226.55" width="7.4" height="7.4" rx="1.5" fill="#0f770f"/>
<rect x="232.3" y="248.3" width="7.4" height="7.4" rx="1.5" fill="#0f770f"/>
<rect x="251.3" y="269.55" width="7.4" height="7.4" rx="1.5" fill="#0f770f"/>
<rect x="248.55" y="312.3" width="7.4" height="7.4" rx="1.5" fill="#0f770f"/>
<rect x="265.55" y="333.8" width="7.4" height="7.4" rx="1.5" fill="#0f770f"/>
<rect x="265.55" y="355.8" width="7.4" height="7.4" rx="1.5" fill="#0f770f"/>
<rect x="272.05" y="372.3" width="7.4" height="7.4" rx="1.5" fill="#0f770f"/>
<rect x="209.8" y="405.8" width="7.4" height="7.4" rx="1.5" fill="#0f770f"/>
<rect x="251.3" y="422.05" width="7.4" height="7.4" rx="1.5" fill="#0f770f"/>
<rect x="227.8" y="438.8" width="7.4" height="7.4" rx="1.5" fill="#0f770f"/>
<rect x="259.8" y="455.3" width="7.4" height="7.4" rx="1.5" fill="#0f770f"/>
<rect x="220.3" y="488.55" width="7.4" height="7.4" rx="1.5" fill="#0f770f"/>
<rect x="217.3" y="504.8" width="7.4" height="7.4" rx="1.5" fill="#0f770f"/>
<rect x="257.8" y="521.8" width="7.4" height="7.4" rx="1.5" fill="#0f770f"/>
<rect x="235.3" y="538.3" width="7.4" height="7.4" rx="1.5" fill="#0f770f"/>
<rect x="226.8" y="554.8" width="7.4" height="7.4" rx="1.5" fill="#0f770f"/>
<rect x="265.55" y="587.8" width="7.4" height="7.4" rx="1.5" fill="#0f770f"/>
<rect x="196.55" y="605.05" width="7.4" height="7.4" rx="1.5" fill="#0f770f"/>
<rect x="263.55" y="621.05" width="7.4" height="7.4" rx="1.5" fill="#0f770f"/>
<polyline points="453,208.9 460.75,230.25 473.75,252 483.5,273.25 473.75,294.75 468.25,316 497.5,337.5 499.25,359.5 458.75,376 485,392.75 499.25,425.75 485.25,442.5 486,459 488,475.5 504,492.25 491.75,508.5 505,525.5 492.5,542 474.75,558.5 494.5,575.25 499.25,591.5 431.25,608.4 473.75,624.75 507,641" fill="none" stroke="#8b1a9b" stroke-width="1.9" stroke-linejoin="round"/>
<rect x="449.3" y="205.2" width="7.4" height="7.4" rx="1.5" fill="#8b1a9b"/>
<rect x="457.05" y="226.55" width="7.4" height="7.4" rx="1.5" fill="#8b1a9b"/>
<rect x="470.05" y="248.3" width="7.4" height="7.4" rx="1.5" fill="#8b1a9b"/>
<rect x="479.8" y="269.55" width="7.4" height="7.4" rx="1.5" fill="#8b1a9b"/>
<rect x="470.05" y="291.05" width="7.4" height="7.4" rx="1.5" fill="#8b1a9b"/>
<rect x="464.55" y="312.3" width="7.4" height="7.4" rx="1.5" fill="#8b1a9b"/>
<rect x="493.8" y="333.8" width="7.4" height="7.4" rx="1.5" fill="#8b1a9b"/>
<rect x="495.55" y="355.8" width="7.4" height="7.4" rx="1.5" fill="#8b1a9b"/>
<rect x="455.05" y="372.3" width="7.4" height="7.4" rx="1.5" fill="#8b1a9b"/>
<rect x="481.3" y="389.05" width="7.4" height="7.4" rx="1.5" fill="#8b1a9b"/>
<rect x="495.55" y="422.05" width="7.4" height="7.4" rx="1.5" fill="#8b1a9b"/>
<rect x="481.55" y="438.8" width="7.4" height="7.4" rx="1.5" fill="#8b1a9b"/>
<rect x="482.3" y="455.3" width="7.4" height="7.4" rx="1.5" fill="#8b1a9b"/>
<rect x="484.3" y="471.8" width="7.4" height="7.4" rx="1.5" fill="#8b1a9b"/>
<rect x="500.3" y="488.55" width="7.4" height="7.4" rx="1.5" fill="#8b1a9b"/>
<rect x="488.05" y="504.8" width="7.4" height="7.4" rx="1.5" fill="#8b1a9b"/>
<rect x="501.3" y="521.8" width="7.4" height="7.4" rx="1.5" fill="#8b1a9b"/>
<rect x="488.8" y="538.3" width="7.4" height="7.4" rx="1.5" fill="#8b1a9b"/>
<rect x="471.05" y="554.8" width="7.4" height="7.4" rx="1.5" fill="#8b1a9b"/>
<rect x="490.8" y="571.55" width="7.4" height="7.4" rx="1.5" fill="#8b1a9b"/>
<rect x="495.55" y="587.8" width="7.4" height="7.4" rx="1.5" fill="#8b1a9b"/>
<rect x="427.55" y="604.7" width="7.4" height="7.4" rx="1.5" fill="#8b1a9b"/>
<rect x="470.05" y="621.05" width="7.4" height="7.4" rx="1.5" fill="#8b1a9b"/>
<rect x="503.3" y="637.3" width="7.4" height="7.4" rx="1.5" fill="#8b1a9b"/>
<polyline points="656.75,208.9 672.25,230.25 666,252 694.25,273.25 692.5,294.75 705,316 729.25,337.5 733.5,359.5 666.25,376 709.5,392.75 743.5,425.75 714.5,442.5 753,459 721,475.5 715,492.25 727.5,508.5 764.25,525.5 740.25,542 712.75,558.5 738.25,575.25 762.5,591.5 681.25,608.4 714.25,624.75 749.25,641" fill="none" stroke="#8b1a9b" stroke-width="1.9" stroke-linejoin="round"/>
<rect x="653.05" y="205.2" width="7.4" height="7.4" rx="1.5" fill="#8b1a9b"/>
<rect x="668.55" y="226.55" width="7.4" height="7.4" rx="1.5" fill="#8b1a9b"/>
<rect x="662.3" y="248.3" width="7.4" height="7.4" rx="1.5" fill="#8b1a9b"/>
<rect x="690.55" y="269.55" width="7.4" height="7.4" rx="1.5" fill="#8b1a9b"/>
<rect x="688.8" y="291.05" width="7.4" height="7.4" rx="1.5" fill="#8b1a9b"/>
<rect x="701.3" y="312.3" width="7.4" height="7.4" rx="1.5" fill="#8b1a9b"/>
<rect x="725.55" y="333.8" width="7.4" height="7.4" rx="1.5" fill="#8b1a9b"/>
<rect x="729.8" y="355.8" width="7.4" height="7.4" rx="1.5" fill="#8b1a9b"/>
<rect x="662.55" y="372.3" width="7.4" height="7.4" rx="1.5" fill="#8b1a9b"/>
<rect x="705.8" y="389.05" width="7.4" height="7.4" rx="1.5" fill="#8b1a9b"/>
<rect x="739.8" y="422.05" width="7.4" height="7.4" rx="1.5" fill="#8b1a9b"/>
<rect x="710.8" y="438.8" width="7.4" height="7.4" rx="1.5" fill="#8b1a9b"/>
<rect x="749.3" y="455.3" width="7.4" height="7.4" rx="1.5" fill="#8b1a9b"/>
<rect x="717.3" y="471.8" width="7.4" height="7.4" rx="1.5" fill="#8b1a9b"/>
<rect x="711.3" y="488.55" width="7.4" height="7.4" rx="1.5" fill="#8b1a9b"/>
<rect x="723.8" y="504.8" width="7.4" height="7.4" rx="1.5" fill="#8b1a9b"/>
<rect x="760.55" y="521.8" width="7.4" height="7.4" rx="1.5" fill="#8b1a9b"/>
<rect x="736.55" y="538.3" width="7.4" height="7.4" rx="1.5" fill="#8b1a9b"/>
<rect x="709.05" y="554.8" width="7.4" height="7.4" rx="1.5" fill="#8b1a9b"/>
<rect x="734.55" y="571.55" width="7.4" height="7.4" rx="1.5" fill="#8b1a9b"/>
<rect x="758.8" y="587.8" width="7.4" height="7.4" rx="1.5" fill="#8b1a9b"/>
<rect x="677.55" y="604.7" width="7.4" height="7.4" rx="1.5" fill="#8b1a9b"/>
<rect x="710.55" y="621.05" width="7.4" height="7.4" rx="1.5" fill="#8b1a9b"/>
<rect x="745.55" y="637.3" width="7.4" height="7.4" rx="1.5" fill="#8b1a9b"/>
<polyline points="884.5,209.25 887.75,230.25 880,251.5 890.75,273.25 914.5,294.75 944.5,315 952.75,336.25 945.75,345.25 932,359 880,376 917,391.5 904.5,423.5 942,441.5 933.25,458.5 901.5,474.5 909.5,491.5 923.25,511.5 924,524.75 910,541 911,557.25 889.5,574 967,590.25 965.75,607.25 888.75,624 943.25,640.25" fill="none" stroke="#484848" stroke-width="1.35" stroke-dasharray="3.2 3.8" stroke-linejoin="round"/>
<polyline points="917.5,208.9 922.5,230.25 915.75,252 922.25,273.25 945,294.75 977,316 986.5,337.5 965.75,359.5 905,376 950.75,392.75 937.25,425.75 975,442.5 966.5,459 936.5,475.5 943.25,492.25 955.5,508.5 957.5,525.5 941.25,542 944.75,558.5 921.5,575.25 999.5,591.5 995.75,608.4 917.5,624.75 976,641" fill="none" stroke="#000" stroke-width="1.9" stroke-linejoin="round"/>
<rect x="913.8" y="205.2" width="7.4" height="7.4" rx="1.5" fill="#000"/>
<rect x="918.8" y="226.55" width="7.4" height="7.4" rx="1.5" fill="#000"/>
<rect x="912.05" y="248.3" width="7.4" height="7.4" rx="1.5" fill="#000"/>
<rect x="918.55" y="269.55" width="7.4" height="7.4" rx="1.5" fill="#000"/>
<rect x="941.3" y="291.05" width="7.4" height="7.4" rx="1.5" fill="#000"/>
<rect x="973.3" y="312.3" width="7.4" height="7.4" rx="1.5" fill="#000"/>
<rect x="982.8" y="333.8" width="7.4" height="7.4" rx="1.5" fill="#000"/>
<rect x="962.05" y="355.8" width="7.4" height="7.4" rx="1.5" fill="#000"/>
<rect x="901.3" y="372.3" width="7.4" height="7.4" rx="1.5" fill="#000"/>
<rect x="947.05" y="389.05" width="7.4" height="7.4" rx="1.5" fill="#000"/>
<rect x="933.55" y="422.05" width="7.4" height="7.4" rx="1.5" fill="#000"/>
<rect x="971.3" y="438.8" width="7.4" height="7.4" rx="1.5" fill="#000"/>
<rect x="962.8" y="455.3" width="7.4" height="7.4" rx="1.5" fill="#000"/>
<rect x="932.8" y="471.8" width="7.4" height="7.4" rx="1.5" fill="#000"/>
<rect x="939.55" y="488.55" width="7.4" height="7.4" rx="1.5" fill="#000"/>
<rect x="951.8" y="504.8" width="7.4" height="7.4" rx="1.5" fill="#000"/>
<rect x="953.8" y="521.8" width="7.4" height="7.4" rx="1.5" fill="#000"/>
<rect x="937.55" y="538.3" width="7.4" height="7.4" rx="1.5" fill="#000"/>
<rect x="941.05" y="554.8" width="7.4" height="7.4" rx="1.5" fill="#000"/>
<rect x="917.8" y="571.55" width="7.4" height="7.4" rx="1.5" fill="#000"/>
<rect x="995.8" y="587.8" width="7.4" height="7.4" rx="1.5" fill="#000"/>
<rect x="992.05" y="604.7" width="7.4" height="7.4" rx="1.5" fill="#000"/>
<rect x="913.8" y="621.05" width="7.4" height="7.4" rx="1.5" fill="#000"/>
<rect x="972.3" y="637.3" width="7.4" height="7.4" rx="1.5" fill="#000"/>
<polyline points="1091.25,208.9 1074.75,230.25 1107.75,252 1115.5,273.25 1120,294.75 1140.75,316 1153,337.5 1123.75,359.5 1076.5,376 1139,392.75 1172,425.75 1153,442.5 1149.25,459 1158.75,475.5 1166.25,492.25 1159.5,508.5 1182.25,525.5 1173,542 1133.25,558.5 1160.5,575.25 1178.5,591.5 1089.75,608.4 1137.25,624.75 1170,641" fill="none" stroke="#0a2ea0" stroke-width="1.9" stroke-linejoin="round"/>
<rect x="1087.55" y="205.2" width="7.4" height="7.4" rx="1.5" fill="#0a2ea0"/>
<rect x="1071.05" y="226.55" width="7.4" height="7.4" rx="1.5" fill="#0a2ea0"/>
<rect x="1104.05" y="248.3" width="7.4" height="7.4" rx="1.5" fill="#0a2ea0"/>
<rect x="1111.8" y="269.55" width="7.4" height="7.4" rx="1.5" fill="#0a2ea0"/>
<rect x="1116.3" y="291.05" width="7.4" height="7.4" rx="1.5" fill="#0a2ea0"/>
<rect x="1137.05" y="312.3" width="7.4" height="7.4" rx="1.5" fill="#0a2ea0"/>
<rect x="1149.3" y="333.8" width="7.4" height="7.4" rx="1.5" fill="#0a2ea0"/>
<rect x="1120.05" y="355.8" width="7.4" height="7.4" rx="1.5" fill="#0a2ea0"/>
<rect x="1072.8" y="372.3" width="7.4" height="7.4" rx="1.5" fill="#0a2ea0"/>
<rect x="1135.3" y="389.05" width="7.4" height="7.4" rx="1.5" fill="#0a2ea0"/>
<rect x="1168.3" y="422.05" width="7.4" height="7.4" rx="1.5" fill="#0a2ea0"/>
<rect x="1149.3" y="438.8" width="7.4" height="7.4" rx="1.5" fill="#0a2ea0"/>
<rect x="1145.55" y="455.3" width="7.4" height="7.4" rx="1.5" fill="#0a2ea0"/>
<rect x="1155.05" y="471.8" width="7.4" height="7.4" rx="1.5" fill="#0a2ea0"/>
<rect x="1162.55" y="488.55" width="7.4" height="7.4" rx="1.5" fill="#0a2ea0"/>
<rect x="1155.8" y="504.8" width="7.4" height="7.4" rx="1.5" fill="#0a2ea0"/>
<rect x="1178.55" y="521.8" width="7.4" height="7.4" rx="1.5" fill="#0a2ea0"/>
<rect x="1169.3" y="538.3" width="7.4" height="7.4" rx="1.5" fill="#0a2ea0"/>
<rect x="1129.55" y="554.8" width="7.4" height="7.4" rx="1.5" fill="#0a2ea0"/>
<rect x="1156.8" y="571.55" width="7.4" height="7.4" rx="1.5" fill="#0a2ea0"/>
<rect x="1174.8" y="587.8" width="7.4" height="7.4" rx="1.5" fill="#0a2ea0"/>
<rect x="1086.05" y="604.7" width="7.4" height="7.4" rx="1.5" fill="#0a2ea0"/>
<rect x="1133.55" y="621.05" width="7.4" height="7.4" rx="1.5" fill="#0a2ea0"/>
<rect x="1166.3" y="637.3" width="7.4" height="7.4" rx="1.5" fill="#0a2ea0"/>
<polyline points="1279.5,208.9 1284.75,230.25 1309.25,252 1308.25,273.25 1314,294.75 1321.5,316 1332,337.5 1322.5,359.5 1323.5,376 1326.25,392.75 1353,425.75 1349,442.5 1351.75,459 1373.5,475.5 1360.5,492.25 1354.75,508.5 1370.75,525.5 1339.5,542 1319.75,558.5 1350.25,575.25 1426.25,591.5 1290.75,608.4 1361.25,624.75 1367,641" fill="none" stroke="#0a2ea0" stroke-width="1.9" stroke-linejoin="round"/>
<rect x="1275.8" y="205.2" width="7.4" height="7.4" rx="1.5" fill="#0a2ea0"/>
<rect x="1281.05" y="226.55" width="7.4" height="7.4" rx="1.5" fill="#0a2ea0"/>
<rect x="1305.55" y="248.3" width="7.4" height="7.4" rx="1.5" fill="#0a2ea0"/>
<rect x="1304.55" y="269.55" width="7.4" height="7.4" rx="1.5" fill="#0a2ea0"/>
<rect x="1310.3" y="291.05" width="7.4" height="7.4" rx="1.5" fill="#0a2ea0"/>
<rect x="1317.8" y="312.3" width="7.4" height="7.4" rx="1.5" fill="#0a2ea0"/>
<rect x="1328.3" y="333.8" width="7.4" height="7.4" rx="1.5" fill="#0a2ea0"/>
<rect x="1318.8" y="355.8" width="7.4" height="7.4" rx="1.5" fill="#0a2ea0"/>
<rect x="1319.8" y="372.3" width="7.4" height="7.4" rx="1.5" fill="#0a2ea0"/>
<rect x="1322.55" y="389.05" width="7.4" height="7.4" rx="1.5" fill="#0a2ea0"/>
<rect x="1349.3" y="422.05" width="7.4" height="7.4" rx="1.5" fill="#0a2ea0"/>
<rect x="1345.3" y="438.8" width="7.4" height="7.4" rx="1.5" fill="#0a2ea0"/>
<rect x="1348.05" y="455.3" width="7.4" height="7.4" rx="1.5" fill="#0a2ea0"/>
<rect x="1369.8" y="471.8" width="7.4" height="7.4" rx="1.5" fill="#0a2ea0"/>
<rect x="1356.8" y="488.55" width="7.4" height="7.4" rx="1.5" fill="#0a2ea0"/>
<rect x="1351.05" y="504.8" width="7.4" height="7.4" rx="1.5" fill="#0a2ea0"/>
<rect x="1367.05" y="521.8" width="7.4" height="7.4" rx="1.5" fill="#0a2ea0"/>
<rect x="1335.8" y="538.3" width="7.4" height="7.4" rx="1.5" fill="#0a2ea0"/>
<rect x="1316.05" y="554.8" width="7.4" height="7.4" rx="1.5" fill="#0a2ea0"/>
<rect x="1346.55" y="571.55" width="7.4" height="7.4" rx="1.5" fill="#0a2ea0"/>
<rect x="1422.55" y="587.8" width="7.4" height="7.4" rx="1.5" fill="#0a2ea0"/>
<rect x="1287.05" y="604.7" width="7.4" height="7.4" rx="1.5" fill="#0a2ea0"/>
<rect x="1357.55" y="621.05" width="7.4" height="7.4" rx="1.5" fill="#0a2ea0"/>
<rect x="1363.3" y="637.3" width="7.4" height="7.4" rx="1.5" fill="#0a2ea0"/>
<polyline points="1546,208.9 1547,230.25 1574.25,252 1582,273.25 1580,294.75 1571.5,316 1576.25,337.5 1573.5,359.5 1573.5,376 1568.5,392.75 1607.25,425.75 1592.25,442.5 1563.25,459 1614,475.5 1609.25,492.25 1592.25,508.5 1608.25,525.5 1587.25,542 1574.75,558.5 1614,575.25 1620.25,591.5 1549.75,608.4 1612.25,624.75 1630,639.5" fill="none" stroke="#0a2ea0" stroke-width="1.9" stroke-linejoin="round"/>
<rect x="1542.3" y="205.2" width="7.4" height="7.4" rx="1.5" fill="#0a2ea0"/>
<rect x="1543.3" y="226.55" width="7.4" height="7.4" rx="1.5" fill="#0a2ea0"/>
<rect x="1570.55" y="248.3" width="7.4" height="7.4" rx="1.5" fill="#0a2ea0"/>
<rect x="1578.3" y="269.55" width="7.4" height="7.4" rx="1.5" fill="#0a2ea0"/>
<rect x="1576.3" y="291.05" width="7.4" height="7.4" rx="1.5" fill="#0a2ea0"/>
<rect x="1567.8" y="312.3" width="7.4" height="7.4" rx="1.5" fill="#0a2ea0"/>
<rect x="1572.55" y="333.8" width="7.4" height="7.4" rx="1.5" fill="#0a2ea0"/>
<rect x="1569.8" y="355.8" width="7.4" height="7.4" rx="1.5" fill="#0a2ea0"/>
<rect x="1569.8" y="372.3" width="7.4" height="7.4" rx="1.5" fill="#0a2ea0"/>
<rect x="1564.8" y="389.05" width="7.4" height="7.4" rx="1.5" fill="#0a2ea0"/>
<rect x="1603.55" y="422.05" width="7.4" height="7.4" rx="1.5" fill="#0a2ea0"/>
<rect x="1588.55" y="438.8" width="7.4" height="7.4" rx="1.5" fill="#0a2ea0"/>
<rect x="1559.55" y="455.3" width="7.4" height="7.4" rx="1.5" fill="#0a2ea0"/>
<rect x="1610.3" y="471.8" width="7.4" height="7.4" rx="1.5" fill="#0a2ea0"/>
<rect x="1605.55" y="488.55" width="7.4" height="7.4" rx="1.5" fill="#0a2ea0"/>
<rect x="1588.55" y="504.8" width="7.4" height="7.4" rx="1.5" fill="#0a2ea0"/>
<rect x="1604.55" y="521.8" width="7.4" height="7.4" rx="1.5" fill="#0a2ea0"/>
<rect x="1583.55" y="538.3" width="7.4" height="7.4" rx="1.5" fill="#0a2ea0"/>
<rect x="1571.05" y="554.8" width="7.4" height="7.4" rx="1.5" fill="#0a2ea0"/>
<rect x="1610.3" y="571.55" width="7.4" height="7.4" rx="1.5" fill="#0a2ea0"/>
<rect x="1616.55" y="587.8" width="7.4" height="7.4" rx="1.5" fill="#0a2ea0"/>
<rect x="1546.05" y="604.7" width="7.4" height="7.4" rx="1.5" fill="#0a2ea0"/>
<rect x="1608.55" y="621.05" width="7.4" height="7.4" rx="1.5" fill="#0a2ea0"/>
<rect x="1626.3" y="635.8" width="7.4" height="7.4" rx="1.5" fill="#0a2ea0"/>
<text transform="translate(848.6 638.7) scale(1 1.05)" font-size="26.4" fill="#5c5c5f" stroke="#5c5c5f">U<tspan font-size="13.4" dy="4.4">auth</tspan></text>
<text transform="translate(987 655.3) scale(1 1.05)" font-size="26.4" fill="#000" stroke="#000">U<tspan font-size="13.4" dy="5.8">tot</tspan></text>
<path d="M129.7 682.6V195.45H2000.6V671.2H129.7M1710.0 195.45V671.2" fill="none" stroke="#000" stroke-width="2.0" stroke-linejoin="round"/>
<line x1="164.25" y1="195.45" x2="355.25" y2="195.45" stroke="#0f770f" stroke-width="2" stroke-opacity="0.36"/>
<path d="M164.25 185.75V195.45M355.25 185.75V195.45M259.75 190V195.45" stroke="#2f9a2f" stroke-width="1" fill="none"/>
<line x1="385" y1="195.45" x2="575.5" y2="195.45" stroke="#8b1a9b" stroke-width="2" stroke-opacity="0.36"/>
<path d="M385 185.75V195.45M575.5 185.75V195.45M480.25 190V195.45" stroke="#a13cad" stroke-width="1" fill="none"/>
<line x1="606.75" y1="195.45" x2="797.25" y2="195.45" stroke="#8b1a9b" stroke-width="2" stroke-opacity="0.36"/>
<path d="M606.75 185.75V195.45M797.25 185.75V195.45M702 190V195.45" stroke="#a13cad" stroke-width="1" fill="none"/>
<line x1="824.75" y1="195.45" x2="1015.5" y2="195.45" stroke="#000" stroke-width="2" stroke-opacity="0.36"/>
<path d="M824.75 185.75V195.45M1015.5 185.75V195.45M920.12 190V195.45" stroke="#333" stroke-width="1" fill="none"/>
<line x1="1044.5" y1="195.45" x2="1235" y2="195.45" stroke="#0a2ea0" stroke-width="2" stroke-opacity="0.36"/>
<path d="M1044.5 185.75V195.45M1235 185.75V195.45M1139.75 190V195.45" stroke="#3f6fc8" stroke-width="1" fill="none"/>
<line x1="1265" y1="195.45" x2="1455.5" y2="195.45" stroke="#0a2ea0" stroke-width="2" stroke-opacity="0.36"/>
<path d="M1265 185.75V195.45M1455.5 185.75V195.45M1360.25 190V195.45" stroke="#3f6fc8" stroke-width="1" fill="none"/>
<line x1="1485.5" y1="195.45" x2="1676.25" y2="195.45" stroke="#0a2ea0" stroke-width="2" stroke-opacity="0.36"/>
<path d="M1485.5 185.75V195.45M1676.25 185.75V195.45M1580.88 190V195.45" stroke="#3f6fc8" stroke-width="1" fill="none"/>
<path d="M1739.5 190V195.45M1796.25 190V195.45M1852.25 190V195.45M1908.25 190V195.45" stroke="#222" stroke-width="1.1" fill="none"/>
</svg>
</body>
</html>
